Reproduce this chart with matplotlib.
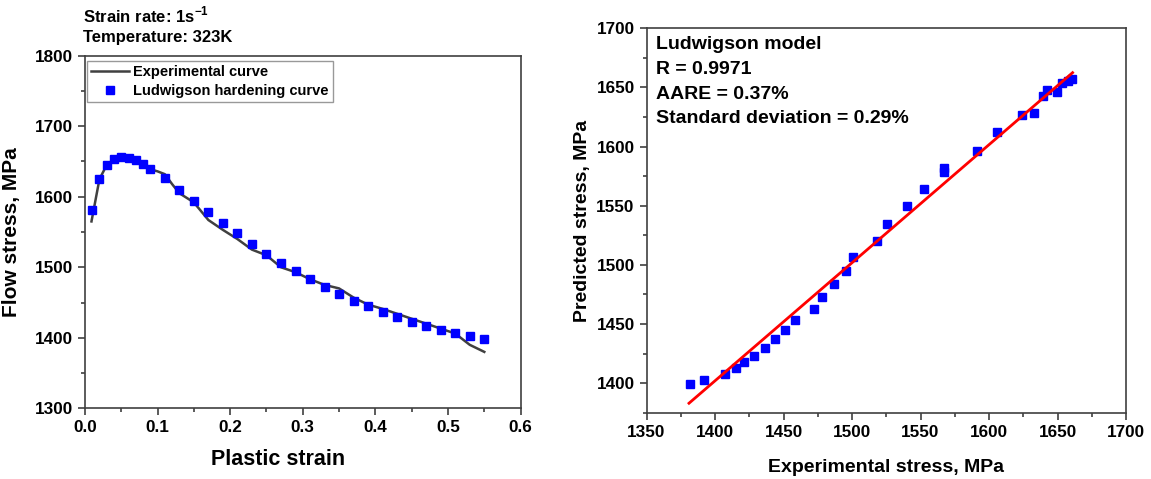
import numpy as np
import matplotlib.pyplot as plt
from matplotlib.ticker import MultipleLocator

plt.rcParams['font.family'] = 'Liberation Sans'
plt.rcParams['font.weight'] = 'bold'
plt.rcParams['axes.labelweight'] = 'bold'
plt.rcParams['mathtext.fontset'] = 'custom'
plt.rcParams['mathtext.rm'] = 'Liberation Sans:bold'
plt.rcParams['mathtext.bf'] = 'Liberation Sans:bold'

# experimental flow curve (left panel, line)
exp_strain = [0.009, 0.02, 0.03, 0.04, 0.05, 0.06, 0.07, 0.08, 0.09, 0.10, 0.11,
              0.12, 0.13, 0.15, 0.17, 0.19, 0.21, 0.23, 0.25, 0.27, 0.29, 0.31,
              0.33, 0.35, 0.37, 0.39, 0.41, 0.43, 0.45, 0.47, 0.49, 0.51, 0.53, 0.55]
exp_stress = [1565, 1625, 1645, 1653, 1657, 1656, 1651, 1643, 1639, 1636, 1632,
              1618, 1605, 1592, 1567, 1553, 1540, 1525, 1517, 1500, 1493, 1483,
              1475, 1470, 1457, 1447, 1441, 1434, 1427, 1420, 1413, 1406, 1390, 1380]

# Ludwigson model (left panel, squares)
lud_strain = [0.01, 0.02, 0.03, 0.04, 0.05, 0.06, 0.07, 0.08, 0.09, 0.11, 0.13,
              0.15, 0.17, 0.19, 0.21, 0.23, 0.25, 0.27, 0.29, 0.31, 0.33, 0.35,
              0.37, 0.39, 0.41, 0.43, 0.45, 0.47, 0.49, 0.51, 0.53, 0.55]
lud_stress = [1581, 1625, 1645, 1653, 1656, 1655, 1652, 1646, 1640, 1626, 1610,
              1594, 1578, 1563, 1548, 1533, 1519, 1505.5, 1494.5, 1483, 1472.5, 1462,
              1452.5, 1444.5, 1437, 1430, 1423, 1417, 1411.5, 1406.5, 1402, 1398]

# right panel: experimental vs predicted
cmp_exp = [1382, 1392, 1407.5, 1415, 1421, 1428.5, 1436.5, 1444, 1451, 1458.5,
           1472, 1478, 1486.5, 1495.5, 1501, 1518, 1525.5, 1540, 1552.5, 1567.5,
           1567.5, 1591, 1606, 1624, 1632.5, 1639.5, 1642.5, 1649.5, 1653, 1657.5, 1660.5]
cmp_pred = [1399, 1402.5, 1407.5, 1412.5, 1417.5, 1423, 1430, 1437.5, 1445, 1453.5,
            1462.5, 1473, 1484, 1495, 1507, 1520.5, 1534.5, 1549.5, 1564.5, 1578.5,
            1581.5, 1596, 1612, 1627, 1628, 1642.5, 1648, 1646, 1653.5, 1655.5, 1657]
fit_x = [1381, 1661]
fit_y = [1383, 1662.5]

spine_col = '#404040'

fig = plt.figure(figsize=(11.51, 4.79), dpi=100)
ax1 = fig.add_axes([0.0738, 0.1476, 0.3785, 0.7361])
ax2 = fig.add_axes([0.5617, 0.1384, 0.4166, 0.8025])

# ---- left panel
ax1.plot(exp_strain, exp_stress, color='#404040', lw=1.8, label='Experimental curve')
ax1.plot(lud_strain, lud_stress, 's', color='#0000ff', ms=5.5, mec='#0000ff',
         label='Ludwigson hardening curve')
ax1.set_xlim(0, 0.6)
ax1.set_ylim(1300, 1800)
ax1.xaxis.set_major_locator(MultipleLocator(0.1))
ax1.xaxis.set_minor_locator(MultipleLocator(0.05))
ax1.yaxis.set_major_locator(MultipleLocator(100))
ax1.yaxis.set_minor_locator(MultipleLocator(50))
ax1.set_xlabel('Plastic strain', fontsize=15.5)
ax1.set_ylabel('Flow stress, MPa', fontsize=15)
ax1.xaxis.set_label_coords(0.444, -0.115)
ax1.yaxis.set_label_coords(-0.147, 0.5)
leg = ax1.legend(loc='upper left', bbox_to_anchor=(0.004, 0.985), borderaxespad=0,
                 fontsize=10.5, frameon=True, fancybox=False, numpoints=1,
                 handlelength=2.6, handletextpad=0.3, labelspacing=0.3,
                 borderpad=0.3)
leg.get_frame().set_edgecolor('#808080')
leg.get_frame().set_linewidth(1.0)

fig.text(0.0721, 0.9687, r'Strain rate: 1s$^{-1}$', fontsize=12, va='center')
fig.text(0.0721, 0.9207, 'Temperature: 323K', fontsize=12, va='center')

# ---- right panel
ax2.plot(cmp_exp, cmp_pred, 's', color='#0000ff', ms=5.5, mec='#0000ff')
ax2.plot(fit_x, fit_y, color='#ff0000', lw=2)
ax2.set_xlim(1350, 1700)
ax2.set_ylim(1375, 1700)
ax2.xaxis.set_major_locator(MultipleLocator(50))
ax2.xaxis.set_minor_locator(MultipleLocator(25))
ax2.yaxis.set_major_locator(MultipleLocator(50))
ax2.yaxis.set_minor_locator(MultipleLocator(25))
ax2.set_xlabel('Experimental stress, MPa', fontsize=14, labelpad=14)
ax2.set_ylabel('Predicted stress, MPa', fontsize=14, labelpad=4)

info = ['Ludwigson model', 'R = 0.9971', 'AARE = 0.37%', 'Standard deviation = 0.29%']
for i, s in enumerate(info):
    ax2.text(0.02, 0.957 - i * 0.064, s, transform=ax2.transAxes, fontsize=14,
             va='center', ha='left')

for ax in (ax1, ax2):
    for sp in ax.spines.values():
        sp.set_color(spine_col)
        sp.set_linewidth(1.2)
    ax.tick_params(which='major', direction='out', length=5, width=1.2,
                   color=spine_col, labelsize=12.3, top=False, right=False)
    ax.tick_params(which='minor', direction='out', length=3, width=1.2,
                   color=spine_col, top=False, right=False)
    for lab in ax.get_xticklabels() + ax.get_yticklabels():
        lab.set_fontweight('bold')

fig.savefig('out.png', dpi=100)
